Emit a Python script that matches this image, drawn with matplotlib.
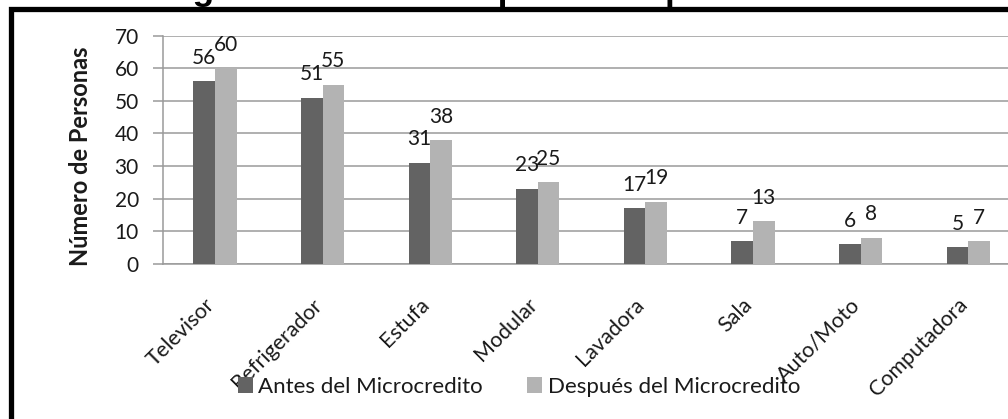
import matplotlib
matplotlib.use("Agg")
import matplotlib.pyplot as plt
import matplotlib.transforms as mtransforms
from matplotlib.patches import Rectangle, Patch
import numpy as np

# datos
categorias = ["Televisor", "Refrigerador", "Estufa", "Modular",
              "Lavadora", "Sala", "Auto/Moto", "Computadora"]
antes = [56, 51, 31, 23, 17, 7, 6, 5]
despues = [60, 55, 38, 25, 19, 13, 8, 7]
series = ["Antes del Microcredito", "Después del Microcredito"]
titulo = "Figura 7. Bienes adquiridos a partir del Microcredito"

color_antes = "#636363"
color_despues = "#b3b3b3"
gris = "#9a9a9a"
fuente = ["Lato", "DejaVu Sans"]

plt.rcParams["font.family"] = fuente

W, H = 1008, 419
fig = plt.figure(figsize=(W / 100, H / 100), dpi=100)
fig.patch.set_facecolor("white")

# ejes en pixeles -> fracciones
x0, x1 = 162.5, 1008
y_top, y_bot = 35.7, 263.7
ax = fig.add_axes([x0 / W, 1 - y_bot / H, (x1 - x0) / W, (y_bot - y_top) / H])

x = np.arange(len(categorias))
ancho = 0.2
ax.bar(x - ancho / 2, antes, ancho, color=color_antes, zorder=3)
ax.bar(x + ancho / 2, despues, ancho, color=color_despues, zorder=3)

# etiquetas de datos
for xi, (a, d) in enumerate(zip(antes, despues)):
    for xv, v in ((xi - ancho / 2, a), (xi + ancho / 2, d)):
        ax.annotate(str(v), (xv, v), xytext=(0, 12.5), textcoords="offset points",
                    ha="center", va="baseline", fontsize=15, color="#1a1a1a")

# escala
px_cat = 107.6
ax.set_xlim(-(215 - x0) / px_cat, (x1 - 215) / px_cat)
ax.set_ylim(0, 70)
ax.set_yticks(range(0, 71, 10))
ax.grid(axis="y", color=gris, lw=1.1, zorder=0)
ax.set_axisbelow(True)

for s in ("top", "right"):
    ax.spines[s].set_visible(False)
for s in ("left", "bottom"):
    ax.spines[s].set_color(gris)
    ax.spines[s].set_linewidth(1.1)

ax.tick_params(axis="y", length=7, width=1.1, color=gris, pad=10,
               labelsize=15, labelcolor="#1a1a1a")
ax.tick_params(axis="x", length=0, pad=0)

ax.set_xticks(x)
ax.set_xticklabels(categorias, rotation=45, ha="right", va="center",
                   rotation_mode="anchor", fontsize=15.5, color="#1a1a1a")
desplaz = mtransforms.ScaledTranslation(-4 / 100, -38 / 100, fig.dpi_scale_trans)
for lab in ax.get_xticklabels():
    lab.set_transform(lab.get_transform() + desplaz)

ax.set_ylabel("Número de Personas", fontsize=17, fontweight="bold", color="#1a1a1a")
ax.yaxis.set_label_coords(92 / W, 1 - 156 / H, transform=fig.transFigure)

# leyenda
manejadores = [Patch(facecolor=color_antes, edgecolor="none"),
               Patch(facecolor=color_despues, edgecolor="none")]
fig.legend(manejadores, series, loc="center", bbox_to_anchor=(519 / W, 1 - 387 / H),
           ncol=2, frameon=False, fontsize=16, handlelength=0.68, handleheight=0.72,
           handletextpad=0.25, columnspacing=2.0, borderpad=0, labelcolor="#1a1a1a")

# titulo recortado arriba: solo se ve la parte baja de las letras
t = fig.text(600 / W, 1.0, titulo, ha="center", va="baseline",
             fontsize=25.5, fontweight="bold", family="Liberation Sans")
fig.canvas.draw()
bb = t.get_window_extent()
t.set_y(1.0 + (H - 7 - bb.y0) / H)

# marco negro
fig.patches.append(Rectangle((11 / W, -0.2), 1.2, 1.2 - 9.3 / H + 0.0,
                             transform=fig.transFigure, fill=False,
                             edgecolor="black", lw=3.8, clip_on=False))

fig.savefig("out.png", dpi=100)
